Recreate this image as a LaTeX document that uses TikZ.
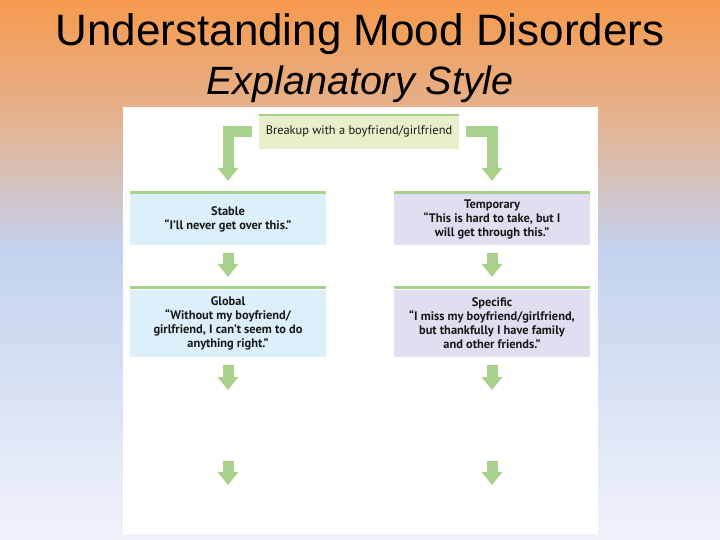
\documentclass[tikz,border=0pt]{standalone}
\usepackage{fontspec}
\setmainfont{Liberation Sans}
\newfontfamily\boxfont{PT Sans}
\usetikzlibrary{arrows.meta}
\definecolor{bgA}{HTML}{F69A4D}
\definecolor{bgB}{HTML}{E4B391}
\definecolor{bgC}{HTML}{C3D2EE}
\definecolor{bgD}{HTML}{F0F3FB}
\definecolor{arrgreen}{HTML}{A9D18E}
\definecolor{topfill}{HTML}{E7F0CB}
\definecolor{bluefill}{HTML}{DDEFFA}
\definecolor{lilacfill}{HTML}{E0DEF0}
\tikzset{
  boxbase/.style={inner sep=0pt, align=center, minimum width=196pt,
    font=\boxfont\bfseries\fontsize{12.4}{14}\selectfont, text=black!90},
  topbox/.style={boxbase, fill=topfill, minimum width=200pt, minimum height=35pt},
  lbox/.style={boxbase, fill=bluefill},
  rbox/.style={boxbase, fill=lilacfill},
  fatarrow/.style={draw=arrgreen, line width=11pt, line join=miter,
    -{Triangle[width=21pt 0, length=13pt 0, line width=0pt, fill=arrgreen]}},
  greenbar/.style={fill=arrgreen}
}
\begin{document}
\begin{tikzpicture}[x=1pt,y=-1pt]
\useasboundingbox (0,0) rectangle (720,540);
% background
\shade[top color=bgA, bottom color=bgB] (0,0) rectangle (720,120);
\shade[top color=bgB, bottom color=bgC] (0,120) rectangle (720,250);
\shade[top color=bgC, bottom color=bgD] (0,250) rectangle (720,540.5);
% title
\node[anchor=base, font=\fontsize{44}{50}\selectfont] (title) at (360,46) {Understanding Mood Disorders};
\node[anchor=base, font=\fontsize{39.5}{44}\selectfont\itshape] (subtitle) at (360,95) {Explanatory Style};
% panel
\fill[white] (123,107) rectangle (598,534);
% boxes (coloured part below the green top bar)
\node[topbox] (top) at (359,131.5) {\mdseries Breakup with a boyfriend/girlfriend};
\node[lbox, minimum height=50.5pt] (stable) at (228,219.75) {Stable\\“I’ll never get over this.”};
\node[rbox, minimum height=50.5pt] (temp) at (492,219.75) {Temporary\\“This is hard to take, but I\\will get through this.”};
\node[lbox, minimum height=67.5pt] (global) at (228,323.25) {Global\\“Without my boyfriend/\\girlfriend, I can’t seem to do\\anything right.”};
\node[rbox, minimum height=67.5pt] (spec) at (492,323.25) {Specific\\“I miss my boyfriend/girlfriend,\\but thankfully I have family\\and other friends.”};
% green top bars
\foreach \n in {stable,temp,global,spec}{
  \fill[greenbar] ([yshift=3.5pt]\n.north west) rectangle (\n.north east);
}
\fill[greenbar] (top.north west) rectangle ([yshift=-2pt]top.north east);
% elbow arrows
\draw[fatarrow, shorten >=13.5pt] ([xshift=-7pt]top.west) -| (stable.north);
\draw[fatarrow, shorten >=13.5pt] ([xshift=7pt]top.east) -| (temp.north);
% vertical arrows
\draw[fatarrow] ([yshift=-8pt]stable.south) -- ([yshift=12.5pt]global.north);
\draw[fatarrow] ([yshift=-8pt]temp.south) -- ([yshift=12.5pt]spec.north);
\coordinate (l1) at (228,390);
\coordinate (r1) at (492,390);
\draw[fatarrow] ([yshift=-8pt]global.south) -- (l1);
\draw[fatarrow] ([yshift=-8pt]spec.south) -- (r1);
\coordinate (l2s) at (228,461);
\coordinate (l2e) at (228,485);
\coordinate (r2s) at (492,461);
\coordinate (r2e) at (492,485);
\draw[fatarrow] (l2s) -- (l2e);
\draw[fatarrow] (r2s) -- (r2e);
\end{tikzpicture}
\end{document}
